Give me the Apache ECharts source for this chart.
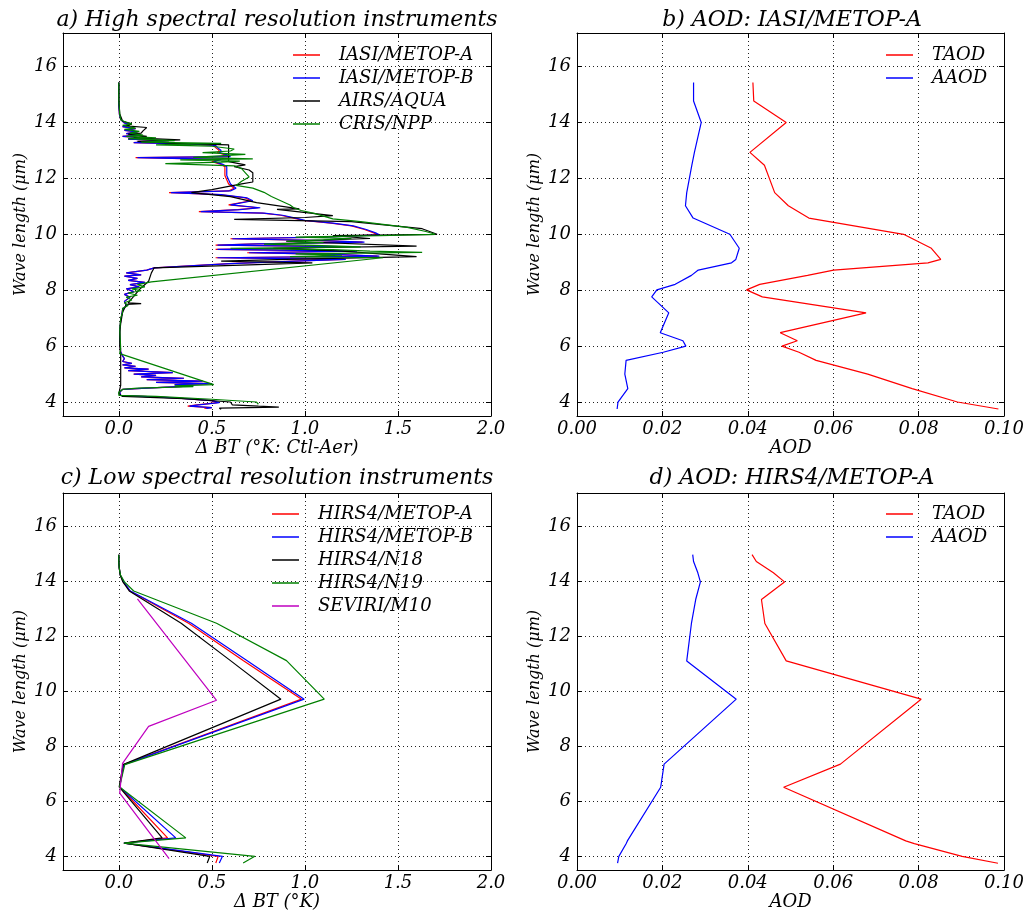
<!DOCTYPE html>
<html>
<head>
<meta charset="utf-8">
<title>Aerosol impact on brightness temperature</title>
<script src="https://cdn.jsdelivr.net/npm/echarts@6/dist/echarts.min.js"></script>
<style>
  html, body { margin: 0; padding: 0; background: #fff; }
  #chart { width: 1027px; height: 912px; }
</style>
</head>
<body>
<div id="chart"></div>
<script>
// ---- a) high spectral resolution instruments: wavelength (um) and delta BT (K) ----
const iasiWave = [15.43, 15.0, 14.6, 14.3, 14.1, 13.98, 13.92, 13.85, 13.78, 13.72, 13.66, 13.6, 13.55, 13.5, 13.45, 13.4,
  13.35, 13.28, 13.22, 13.18, 13.1, 13.0, 12.92, 12.85, 12.78, 12.74, 12.68, 12.6, 12.5, 12.42, 12.3, 12.1, 11.95, 11.8,
  11.65, 11.55, 11.49, 11.42, 11.3, 11.2, 11.13, 11.05, 10.95, 10.88, 10.81, 10.76, 10.68, 10.58, 10.5, 10.4, 10.3, 10.17,
  10.05, 9.98, 9.9, 9.84, 9.78, 9.72, 9.66, 9.61, 9.56, 9.5, 9.46, 9.4, 9.34, 9.28, 9.22, 9.16, 9.1, 9.04, 8.95, 8.8, 8.72,
  8.62, 8.55, 8.5, 8.42, 8.35, 8.28, 8.2, 8.12, 8.05, 7.95, 7.85, 7.75, 7.6, 7.45, 7.3, 7.1, 6.9, 6.6, 6.3, 6.0, 5.8, 5.65,
  5.55, 5.45, 5.38, 5.33, 5.28, 5.22, 5.18, 5.12, 5.05, 5.0, 4.95, 4.9, 4.85, 4.8, 4.75, 4.7, 4.66, 4.62, 4.58, 4.5, 4.45,
  4.35, 4.24, 4.15, 4.05, 3.98, 3.9, 3.85, 3.8, 3.77];
const iasiA = [0.0, 0.0, 0.0, 0.003, 0.01, 0.03, 0.06, 0.02, 0.09, 0.03, 0.1, 0.04, 0.12, 0.02, 0.15, 0.05,
  0.27, 0.08, 0.4, 0.51, 0.52, 0.54, 0.53, 0.57, 0.59, 0.09, 0.54, 0.5, 0.55, 0.57, 0.57, 0.57, 0.58, 0.59,
  0.62, 0.59, 0.27, 0.54, 0.68, 0.71, 0.72, 0.59, 0.75, 0.64, 0.43, 0.77, 0.87, 0.94, 0.99, 1.14, 1.25, 1.32,
  1.37, 1.39, 1.09, 0.6, 1.04, 1.31, 0.74, 0.52, 1.19, 0.94, 0.52, 1.27, 0.69, 1.14, 1.39, 0.52, 1.21, 0.94, 0.59, 0.19, 0.15,
  0.04, 0.12, 0.03, 0.1, 0.05, 0.14, 0.06, 0.11, 0.04, 0.08, 0.03, 0.06, 0.03, 0.04, 0.02, 0.015, 0.01, 0.005, 0.005, 0.008, 0.01, 0.02,
  0.03, 0.02, 0.07, 0.02, 0.09, 0.03, 0.16, 0.05, 0.29, 0.08, 0.2, 0.12, 0.35, 0.15, 0.45, 0.2, 0.5, 0.3, 0.4, 0.15, 0.02,
  0.005, 0.01, 0.3, 0.5, 0.53, 0.42, 0.37, 0.5, 0.46];
const iasiB = [0.0, 0.0, 0.0, 0.003, 0.01, 0.03, 0.06, 0.02, 0.09, 0.03, 0.1, 0.04, 0.12, 0.02, 0.15, 0.05,
  0.27, 0.08, 0.4, 0.52, 0.53, 0.55, 0.54, 0.58, 0.6, 0.1, 0.55, 0.51, 0.56, 0.58, 0.58, 0.58, 0.59, 0.6,
  0.63, 0.6, 0.28, 0.55, 0.69, 0.72, 0.73, 0.6, 0.76, 0.65, 0.44, 0.78, 0.88, 0.95, 1.0, 1.15, 1.26, 1.33,
  1.38, 1.4, 1.1, 0.61, 1.05, 1.32, 0.75, 0.53, 1.2, 0.95, 0.53, 1.28, 0.7, 1.15, 1.4, 0.53, 1.22, 0.95, 0.6, 0.19, 0.15,
  0.04, 0.12, 0.03, 0.1, 0.05, 0.14, 0.06, 0.11, 0.04, 0.08, 0.03, 0.06, 0.03, 0.04, 0.02, 0.015, 0.01, 0.005, 0.005, 0.008, 0.01, 0.02,
  0.03, 0.02, 0.07, 0.02, 0.09, 0.03, 0.16, 0.05, 0.29, 0.08, 0.2, 0.12, 0.35, 0.15, 0.45, 0.2, 0.5, 0.3, 0.4, 0.15, 0.02,
  0.005, 0.01, 0.3, 0.5, 0.54, 0.43, 0.38, 0.5, 0.47];
const airsWave = [15.43, 14.8, 14.3, 14.05, 13.95, 13.88, 13.82, 13.7, 13.62, 13.58, 13.5, 13.45, 13.38, 13.32, 13.25, 13.2,
  12.95, 12.6, 12.48, 12.42, 12.3, 12.2, 11.87, 11.8, 11.6, 11.49, 11.35, 11.13, 10.91, 10.89, 10.67, 10.6, 10.53, 10.45,
  10.2, 10.0, 9.95, 9.85, 9.75, 9.58, 9.5, 9.4, 9.3, 9.2, 9.1, 9.04, 8.98, 8.8, 8.62, 8.32, 8.14, 8.02, 7.78, 7.55, 7.52,
  7.49, 7.2, 6.8, 6.5, 6.0, 5.7, 5.3, 4.9, 4.6, 4.45, 4.3, 4.2, 4.12, 4.0, 3.9, 3.85, 3.82, 3.78, 3.74];
const airsDbt = [0.0, 0.0, 0.005, 0.02, 0.07, 0.04, 0.15, 0.13, 0.12, 0.05, 0.15, 0.08, 0.33, 0.1, 0.3, 0.59,
  0.59, 0.59, 0.68, 0.62, 0.7, 0.72, 0.72, 0.66, 0.5, 0.39, 0.6, 0.74, 0.97, 0.85, 1.15, 1.0, 0.62, 1.25,
  1.63, 1.71, 1.15, 1.35, 0.9, 1.6, 0.83, 1.2, 1.4, 1.6, 0.9, 0.55, 1.04, 0.19, 0.175, 0.16, 0.13, 0.11, 0.08, 0.05, 0.12,
  0.04, 0.02, 0.01, 0.005, 0.005, 0.01, 0.01, 0.01, 0.01, 0.005, 0.0, 0.02, 0.35, 0.6, 0.61, 0.75, 0.86, 0.54, 0.55];
const crisWave = [15.43, 14.8, 14.3, 14.1, 14.0, 13.95, 13.9, 13.8, 13.75, 13.68, 13.62, 13.55, 13.5, 13.45, 13.42, 13.35,
  13.3, 13.25, 13.2, 13.15, 13.05, 12.98, 12.92, 12.86, 12.8, 12.75, 12.7, 12.66, 12.62, 12.58, 12.53, 12.45, 12.35, 12.2,
  12.05, 11.9, 11.75, 11.65, 11.5, 11.35, 11.2, 11.05, 10.95, 10.85, 10.75, 10.65, 10.55, 10.45, 10.25, 10.1, 10.0, 9.95,
  9.9, 9.85, 9.8, 9.75, 9.7, 9.65, 9.6, 9.55, 9.5, 9.45, 9.4, 9.35, 9.3, 9.25, 9.2, 9.16, 8.3, 8.25, 8.2, 8.12, 8.05, 7.98,
  7.9, 7.82, 7.75, 7.65, 7.55, 7.45, 7.35, 7.2, 7.0, 6.6, 6.2, 5.9, 5.73, 4.62, 4.58, 4.55, 4.5, 4.45, 4.35, 4.24, 4.2, 4.1,
  4.0, 3.95, 3.92];
const crisDbt = [0.0, 0.0, 0.005, 0.01, 0.04, 0.07, 0.02, 0.09, 0.03, 0.11, 0.06, 0.13, 0.04, 0.2, 0.05, 0.3,
  0.12, 0.55, 0.2, 0.5, 0.62, 0.6, 0.45, 0.68, 0.69, 0.4, 0.72, 0.33, 0.65, 0.55, 0.25, 0.62, 0.66, 0.68,
  0.7, 0.66, 0.63, 0.72, 0.78, 0.82, 0.87, 0.92, 0.94, 0.98, 1.05, 1.1, 1.15, 1.3, 1.55, 1.65, 1.7, 1.4,
  0.95, 1.25, 1.1, 0.9, 1.1, 0.78, 1.05, 1.3, 0.6, 1.15, 1.35, 1.63, 0.95, 1.2, 0.92, 1.42, 0.175, 0.14, 0.1, 0.14, 0.07, 0.12,
  0.05, 0.1, 0.04, 0.07, 0.03, 0.05, 0.02, 0.02, 0.01, 0.005, 0.008, 0.01, 0.005, 0.51, 0.3, 0.4, 0.1, 0.02, 0.0, 0.0, 0.2, 0.5,
  0.74, 0.73, 0.75];

// ---- b) AOD for IASI/METOP-A ----
const aodWaveB = [15.43, 14.77, 14.0, 12.93, 12.47, 11.49, 11.02, 10.58, 10.0, 9.5, 9.1, 8.98, 8.72, 8.53, 8.21, 8.01,
  7.76, 7.19, 6.48, 6.19, 6.0, 5.78, 5.49, 5.0, 4.48, 4.0, 3.75];
const taodB = [0.0412, 0.0414, 0.049, 0.0405, 0.0439, 0.0463, 0.0495, 0.0543, 0.0765, 0.083, 0.0852, 0.0822, 0.0601, 0.054,
  0.0428, 0.0397, 0.0434, 0.0677, 0.0476, 0.0516, 0.048, 0.052, 0.056, 0.0681, 0.0785, 0.0891, 0.0987];
const aaodB = [0.0273, 0.0273, 0.0291, 0.0275, 0.0269, 0.0257, 0.0254, 0.0272, 0.0358, 0.038, 0.0372, 0.0362, 0.0284, 0.0268,
  0.023, 0.0187, 0.0175, 0.0215, 0.0195, 0.0248, 0.0255, 0.0202, 0.0115, 0.0112, 0.0119, 0.0096, 0.0094];

// ---- c) low spectral resolution instruments ----
const hirsWave = [14.96, 14.71, 14.49, 14.22, 13.97, 13.64, 12.47, 11.11, 9.71, 7.33, 6.52, 4.67, 4.48, 4.0, 3.76];
const hirsMetopA = [0, 0, 0.002, 0.008, 0.025, 0.06, 0.375, 0.67, 0.982, 0.025, 0.004, 0.262, 0.027, 0.534, 0.521];
const hirsMetopB = [0, 0, 0.002, 0.008, 0.026, 0.062, 0.39, 0.69, 0.996, 0.027, 0.004, 0.306, 0.027, 0.557, 0.54];
const hirsN18 = [0, 0, 0.002, 0.007, 0.022, 0.056, 0.335, 0.6, 0.871, 0.023, 0.002, 0.233, 0.03, 0.489, 0.475];
const hirsN19 = [0, 0, 0.002, 0.009, 0.03, 0.08, 0.525, 0.901, 1.104, 0.032, 0.004, 0.36, 0.027, 0.731, 0.668];
const seviriWave = [13.35, 9.67, 8.72, 7.38, 6.3, 3.92];
const seviriM10 = [0.1, 0.525, 0.16, 0.02, 0.005, 0.27];

// ---- d) AOD for HIRS4/METOP-A ----
const aodWaveD = [14.96, 14.71, 14.3, 13.97, 13.33, 12.46, 11.1, 9.71, 7.35, 6.51, 4.56, 4.46, 4.0, 3.75];
const taodD = [0.041, 0.042, 0.046, 0.0486, 0.0432, 0.044, 0.049, 0.0806, 0.0617, 0.0484, 0.077, 0.079, 0.0902, 0.0986];
const aaodD = [0.0271, 0.0273, 0.0283, 0.0289, 0.0278, 0.0268, 0.0257, 0.0373, 0.0204, 0.0196, 0.0118, 0.0115, 0.0098, 0.0095];

// axis ticks
const waveTicks = [4, 6, 8, 10, 12, 14, 16];
const dbtTicks = [0, 0.5, 1, 1.5, 2];

const pair = (xs, ws) => xs.map((v, i) => [v, ws[i]]);

const FONT = 'DejaVu Serif';
const txt = { fontFamily: FONT, fontStyle: 'italic', color: '#000' };

const grids = [
  { left: 63, top: 33, width: 428, height: 383 },
  { left: 577, top: 33, width: 429, height: 383 },
  { left: 63, top: 493, width: 428, height: 382 },
  { left: 577, top: 493, width: 429, height: 382 }
];

const dotted = { show: true, lineStyle: { color: '#222', width: 1, type: [1, 3] } };

function xAxes(g, isDbt, name) {
  const base = isDbt
    ? { min: -0.3, max: 2.0 }
    : { min: 0, max: 0.1, interval: 0.02 };
  const tickCfg = isDbt ? { customValues: dbtTicks } : {};
  const fmt = isDbt ? v => v.toFixed(1) : v => v.toFixed(2);
  return [
    Object.assign({
      type: 'value', gridIndex: g, position: 'bottom',
      name, nameLocation: 'middle', nameGap: 20,
      nameTextStyle: Object.assign({ fontSize: 18 }, txt),
      axisLine: { show: true, onZero: false, lineStyle: { color: '#000', width: 1 } },
      axisTick: Object.assign({ show: true, inside: true, length: 5, lineStyle: { color: '#000' } }, tickCfg),
      axisLabel: Object.assign({ show: true, margin: 4, fontSize: 18, formatter: fmt }, txt, tickCfg),
      splitLine: dotted
    }, base),
    Object.assign({
      type: 'value', gridIndex: g, position: 'top',
      axisLine: { show: true, onZero: false, lineStyle: { color: '#000', width: 1 } },
      axisTick: Object.assign({ show: true, inside: true, length: 5, lineStyle: { color: '#000' } }, tickCfg),
      axisLabel: { show: false },
      splitLine: { show: false }
    }, base)
  ];
}

function yAxes(g) {
  const base = { min: 3.5, max: 17.2 };
  const tickCfg = { customValues: waveTicks };
  return [
    Object.assign({
      type: 'value', gridIndex: g, position: 'left',
      name: 'Wave length (μm)', nameLocation: 'middle', nameGap: 34, nameRotate: 90,
      nameTextStyle: Object.assign({ fontSize: 16 }, txt),
      axisLine: { show: true, onZero: false, lineStyle: { color: '#000', width: 1 } },
      axisTick: Object.assign({ show: true, inside: true, length: 5, lineStyle: { color: '#000' } }, tickCfg),
      axisLabel: Object.assign({ show: true, margin: 6, fontSize: 18 }, txt, tickCfg),
      splitLine: dotted
    }, base),
    Object.assign({
      type: 'value', gridIndex: g, position: 'right',
      axisLine: { show: true, onZero: false, lineStyle: { color: '#000', width: 1 } },
      axisTick: Object.assign({ show: true, inside: true, length: 5, lineStyle: { color: '#000' } }, tickCfg),
      axisLabel: { show: false },
      splitLine: { show: false }
    }, base)
  ];
}

function line(name, g, xs, ws, color) {
  return {
    name, type: 'line', xAxisIndex: g * 2, yAxisIndex: g * 2,
    data: pair(xs, ws), showSymbol: false, symbol: 'none',
    lineStyle: { color, width: 1.2 }, itemStyle: { color },
    emphasis: { disabled: true }
  };
}

function legend(left, top, names) {
  return {
    left, top, padding: 0, orient: 'vertical', icon: 'rect', itemWidth: 27, itemHeight: 1.5, itemGap: 5,
    selectedMode: false, data: names,
    textStyle: Object.assign({ fontSize: 18, lineHeight: 18, padding: [0, 0, 0, 14] }, txt)
  };
}

function title(text, x, y) {
  return { text, left: x, top: y, textAlign: 'center', padding: 0,
    textStyle: Object.assign({ fontSize: 22, fontWeight: 'normal' }, txt) };
}

const chart = echarts.init(document.getElementById('chart'));
chart.setOption({
  animation: false,
  backgroundColor: '#fff',
  title: [
    title('a) High spectral resolution instruments', 277, 9),
    title('b) AOD: IASI/METOP-A', 792, 9),
    title('c) Low spectral resolution instruments', 277, 467),
    title('d) AOD: HIRS4/METOP-A', 792, 467)
  ],
  grid: grids,
  xAxis: [
    ...xAxes(0, true, 'Δ BT (°K: Ctl-Aer)'),
    ...xAxes(1, false, 'AOD'),
    ...xAxes(2, true, 'Δ BT (°K)'),
    ...xAxes(3, false, 'AOD')
  ],
  yAxis: [...yAxes(0), ...yAxes(1), ...yAxes(2), ...yAxes(3)],
  legend: [
    legend(293, 46, ['IASI/METOP-A', 'IASI/METOP-B', 'AIRS/AQUA', 'CRIS/NPP']),
    legend(886, 46, ['TAOD', 'AAOD']),
    legend(272, 505, ['HIRS4/METOP-A', 'HIRS4/METOP-B', 'HIRS4/N18', 'HIRS4/N19', 'SEVIRI/M10']),
    legend(886, 505, ['TAOD ', 'AAOD '])
  ],
  series: [
    line('IASI/METOP-A', 0, iasiA, iasiWave, '#ff0000'),
    line('IASI/METOP-B', 0, iasiB, iasiWave, '#0000ff'),
    line('AIRS/AQUA', 0, airsDbt, airsWave, '#000000'),
    line('CRIS/NPP', 0, crisDbt, crisWave, '#008000'),
    line('TAOD', 1, taodB, aodWaveB, '#ff0000'),
    line('AAOD', 1, aaodB, aodWaveB, '#0000ff'),
    line('HIRS4/METOP-A', 2, hirsMetopA, hirsWave, '#ff0000'),
    line('HIRS4/METOP-B', 2, hirsMetopB, hirsWave, '#0000ff'),
    line('HIRS4/N18', 2, hirsN18, hirsWave, '#000000'),
    line('HIRS4/N19', 2, hirsN19, hirsWave, '#008000'),
    line('SEVIRI/M10', 2, seviriM10, seviriWave, '#bf00bf'),
    line('TAOD ', 3, taodD, aodWaveD, '#ff0000'),
    line('AAOD ', 3, aaodD, aodWaveD, '#0000ff')
  ]
});
</script>
</body>
</html>
